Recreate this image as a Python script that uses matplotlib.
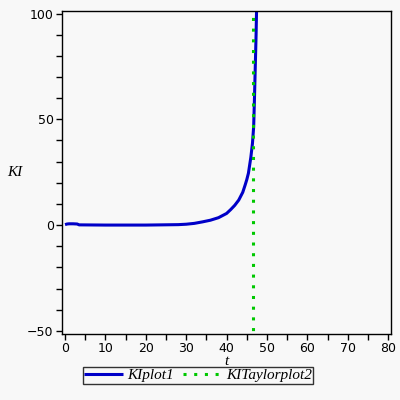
import matplotlib
matplotlib.use("Agg")
import matplotlib.pyplot as plt
from matplotlib.ticker import MultipleLocator

# KIplot1 curve
t = [0, 0.5, 1, 2, 3, 3.5, 10, 20, 28, 30, 32, 34, 36, 38, 40, 41, 42, 43,
     44, 44.6, 45, 45.4, 46, 46.4, 46.7, 46.9, 47.1, 47.3, 47.5]
KI = [0.2, 0.5, 0.6, 0.6, 0.5, 0.1, 0, 0, 0.2, 0.4, 0.8, 1.5, 2.3, 3.5, 5.5,
      7.3, 9.3, 11.8, 15.5, 19, 21.5, 24.5, 32, 38.6, 46.5, 60, 75, 90, 110]

# KITaylorplot2: vertical line
taylor_t = [46.6, 46.6]
taylor_KI = [-60, 110]

bg = "#f8f8f8"
fig = plt.figure(figsize=(4, 4), dpi=100, facecolor=bg)
ax = fig.add_axes([0.155, 0.165, 0.8225, 0.808], facecolor=bg)

ax.plot(t, KI, color="#0000c8", lw=2.2, label="KIplot1", solid_capstyle="butt")
ax.plot(taylor_t, taylor_KI, color="#00c800", lw=2.2, linestyle=(0, (1, 2.5)),
        dash_capstyle="butt", label="KITaylorplot2")

ax.set_xlim(-0.75, 80.7)
ax.set_ylim(-51.5, 101.3)
ax.xaxis.set_major_locator(MultipleLocator(10))
ax.xaxis.set_minor_locator(MultipleLocator(5))
ax.yaxis.set_major_locator(MultipleLocator(50))
ax.yaxis.set_minor_locator(MultipleLocator(10))
ax.tick_params(which="both", direction="out", length=4, width=1, labelsize=9, pad=2)
for s in ax.spines.values():
    s.set_linewidth(1)

ax.set_xlabel("t", fontsize=11, family="Liberation Serif", style="italic", labelpad=0)
ax.set_ylabel("KI", fontsize=11, family="Liberation Serif", style="italic", rotation=0,
              va="center", ha="center")
ax.yaxis.set_label_coords(-0.143, 0.5)

leg = fig.legend(loc="upper center", bbox_to_anchor=(0.495, 0.082), ncol=2,
                 prop={"family": "Liberation Serif", "style": "italic", "size": 11},
                 frameon=True, fancybox=False, edgecolor="black",
                 handlelength=2.5, handletextpad=0.3, columnspacing=0.6,
                 borderpad=0.1, borderaxespad=0)
leg.get_frame().set_linewidth(1)
leg.get_frame().set_facecolor(bg)

fig.savefig("out.png", dpi=100, facecolor=bg)
